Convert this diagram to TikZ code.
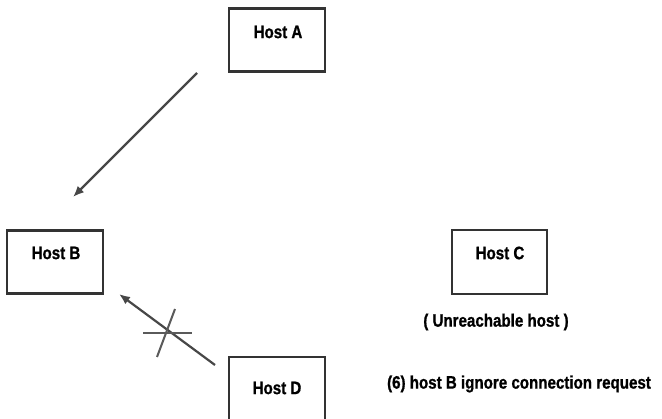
\documentclass[tikz,border=0pt]{standalone}
\usepackage{fontspec}
\usetikzlibrary{arrows.meta}
\newfontfamily\hostfont[FakeStretch=0.84,FakeBold=1]{Liberation Sans Bold}
\definecolor{boxline}{HTML}{333333}
\definecolor{wire}{HTML}{474747}
\definecolor{crossline}{HTML}{5A5A5A}
\begin{document}
\begin{tikzpicture}[x=1pt,y=-1pt,
  hostbox/.style={draw=boxline,line width=2.2pt,minimum width=96pt,minimum height=63pt,inner sep=0pt},
  hostlabel/.style={font=\hostfont\fontsize{18}{20}\selectfont,text=black,anchor=center},
  note/.style={font=\hostfont\fontsize{18}{20}\selectfont,text=black,anchor=center},
  wirearrow/.style={draw=wire,line width=2.2pt,-{Latex[length=11pt,width=9pt]}},
  crossbar/.style={draw=crossline,line width=2pt}]
\useasboundingbox (0,0) rectangle (662,419);

% hosts
\node[hostbox] (A) at (277,40) {};
\node[hostbox] (B) at (55,262) {};
\node[hostbox,minimum width=95pt,minimum height=64pt] (C) at (499.5,262) {};
\node[hostbox,minimum height=64pt] (D) at (277,389) {};

\node[hostlabel] (Alab) at (278,32) {Host A};
\node[hostlabel] (Blab) at (56,253) {Host B};
\node[hostlabel] (Clab) at (500,253) {Host C};
\node[hostlabel] (Dlab) at (277,388) {Host D};

% notes
\node[note] (unreach) at (496,322) {( Unreachable host )};
\node[note] (ignore) at (519,384) {(6) host B ignore connection request};

% connection attempts
\coordinate (AtoB1) at (197,73);
\coordinate (AtoB2) at (73,197);
\draw[wirearrow] (AtoB1) -- (AtoB2);

\coordinate (DtoB1) at (215,365);
\coordinate (DtoB2) at (119,294);
\draw[wirearrow] (DtoB1) -- (DtoB2);

% blocked mark
\coordinate (xh1) at (143,333);
\coordinate (xh2) at (192,333);
\coordinate (xs1) at (175,309);
\coordinate (xs2) at (157,357);
\draw[crossbar] (xh1) -- (xh2);
\draw[crossbar] (xs1) -- (xs2);
\end{tikzpicture}
\end{document}
